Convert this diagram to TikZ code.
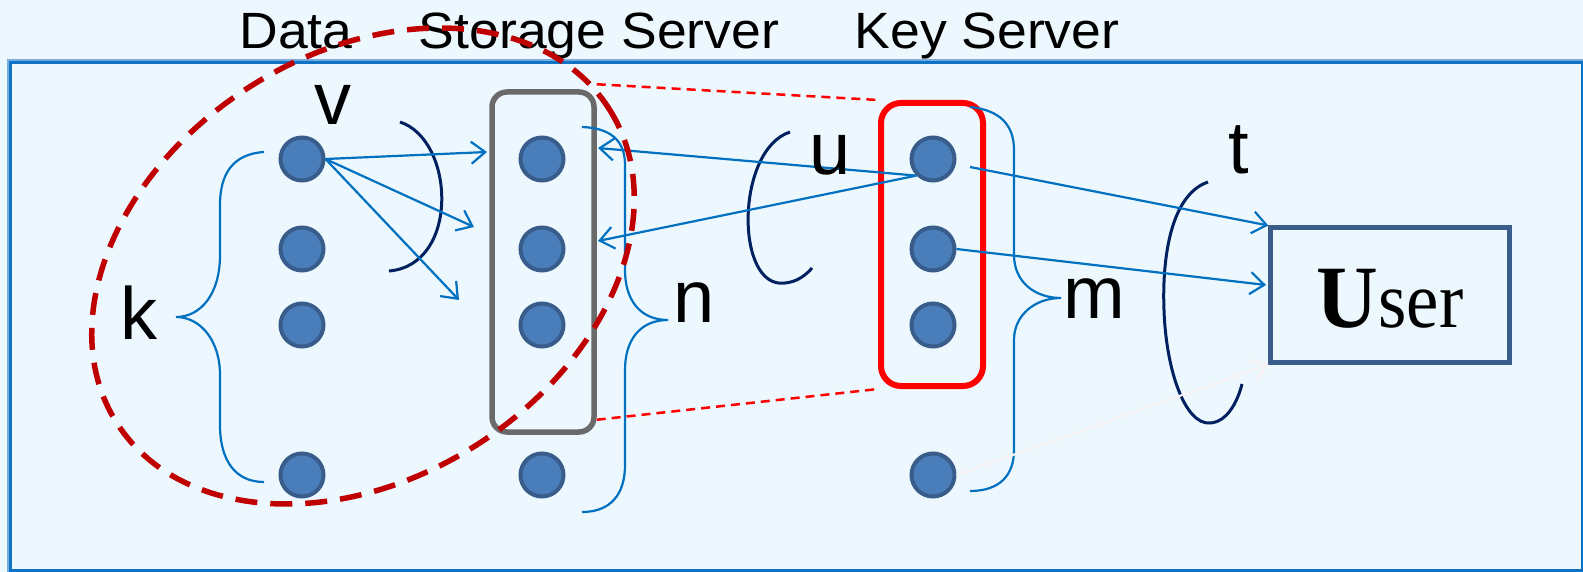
\documentclass[tikz,border=0pt]{standalone}
\usepackage{fontspec}
\setmainfont{Liberation Sans}
\newfontfamily\tnr{Liberation Serif}
\usetikzlibrary{arrows.meta}

\definecolor{bgblue}{RGB}{236,247,254}
\definecolor{framedark}{RGB}{16,114,196}
\definecolor{framelight}{RGB}{120,172,222}
\definecolor{dotfill}{RGB}{74,126,187}
\definecolor{dotedge}{RGB}{56,93,138}
\definecolor{linkblue}{RGB}{0,112,192}
\definecolor{navy}{RGB}{0,32,96}
\definecolor{darkred}{RGB}{192,0,0}
\definecolor{boxgray}{RGB}{106,106,106}
\definecolor{userframe}{RGB}{56,93,138}
\definecolor{faint}{RGB}{248,242,242}

\begin{document}
\begin{tikzpicture}[x=1pt,y=-1pt,
  dot/.style={circle,fill=dotfill,draw=dotedge,line width=4pt,minimum size=43pt,inner sep=0pt},
  link/.style={draw=linkblue,line width=2.2pt,-{Straight Barb[length=14pt,width=22pt]}},
  faintlink/.style={draw=faint,line width=2.2pt,-{Straight Barb[length=14pt,width=22pt]}},
  brace/.style={draw=linkblue,line width=2.2pt},
  loop/.style={draw=navy,line width=3pt},
  title/.style={font=\fontsize{51}{51}\selectfont,anchor=base,inner sep=0pt},
  letter/.style={font=\fontsize{74}{74}\selectfont,anchor=base,inner sep=0pt},
  keyline/.style={draw=red,line width=2.5pt,dash pattern=on 9pt off 6pt},
]
\useasboundingbox (0,0) rectangle (1583,572);
\fill[bgblue] (0,0) rectangle (1583,572);

% outer frame
\draw[framelight,line width=2pt] (8,60) rectangle (1590,580);
\draw[framedark,line width=3pt] (10.5,62.5) rectangle (1582,570.5);

% column titles
\node[title] (tdata) at (296,49) {\scalebox{1.05}[1]{Data}};
\node[title] (tstore) at (599,49) {\scalebox{1.05}[1]{Storage Server}};
\node[title] (tkey) at (987,49) {\scalebox{1.05}[1]{Key Server}};

% server groups
\node[draw=boxgray,line width=5.5pt,rounded corners=15pt,minimum width=102pt,minimum height=340pt,inner sep=0pt] (sbox) at (543,262) {};
\node[draw=red,line width=6pt,rounded corners=20pt,minimum width=102pt,minimum height=283pt,inner sep=0pt] (kbox) at (932,244.5) {};
\draw[keyline] ([yshift=5pt]sbox.north east) -- (kbox.north west);
\draw[keyline] ([yshift=15pt]sbox.south east) -- (kbox.south west);

% user box and its caption
\node[draw=userframe,line width=4.5pt,minimum width=239pt,minimum height=134.5pt,inner sep=0pt] (user) at (1390,295) {};
\node[anchor=base,inner sep=0pt] (usertext) at (1390,327)
  {\tnr\fontsize{89}{89}\selectfont\scalebox{0.96}[1]{\textbf{U}}\fontsize{80}{80}\selectfont\scalebox{0.91}[1]{ser}};

% braces
\draw[brace] (264,152) .. controls (232,154) and (220,175) .. (220,205) -- (220,255)
  .. controls (220,295) and (200,317) .. (176,317)
  .. controls (200,317) and (220,340) .. (220,375) -- (220,425)
  .. controls (220,460) and (235,482) .. (264,482);
\draw[brace] (582,127) .. controls (610,128) and (625,140) .. (625,165) -- (625,270)
  .. controls (625,300) and (640,320) .. (668,320)
  .. controls (640,320) and (625,340) .. (625,370) -- (625,465)
  .. controls (625,495) and (610,512) .. (582,512);
\draw[brace] (970,107) .. controls (1000,110) and (1014,125) .. (1014,150) -- (1014,255)
  .. controls (1014,282) and (1035,298) .. (1061,298)
  .. controls (1035,298) and (1014,315) .. (1014,340) -- (1014,450)
  .. controls (1014,475) and (1000,491) .. (970,491);

% threshold loops
\draw[loop] (400,122) .. controls (455,140) and (460,265) .. (389,271);
\draw[loop] (790,132) .. controls (735,150) and (735,290) .. (785,283)
  .. controls (797,282) and (806,275) .. (812,268);
\draw[loop] (1208,182) .. controls (1170,195) and (1162,260) .. (1164,310)
  .. controls (1166,370) and (1185,425) .. (1210,423)
  .. controls (1228,422) and (1238,400) .. (1242,384);

% nodes of the three columns
\foreach \r/\y in {1/159,2/249,3/325,4/475} {
  \node[dot] (d\r) at (302,\y) {};
  \node[dot] (s\r) at (542,\y) {};
  \node[dot] (q\r) at (933,\y) {};
}

% arrow end points
\coordinate (a1) at (487,152);
\coordinate (a2) at (474,227);
\coordinate (a3) at (459,300);
\coordinate (b1) at (598,148);
\coordinate (b2) at (598,241);
\coordinate (c1) at (970,167);
\coordinate (u2) at (1266,285);

\draw[link] (d1.east) -- (a1);
\draw[link] (d1.east) -- (a2);
\draw[link] (d1.east) -- (a3);
\draw[link] (q1.225) -- (b1);
\draw[link] (q1.225) -- (b2);
\draw[link] (c1) -- (user.north west);
\draw[link] (q2.east) -- (u2);
\draw[faintlink] (q4.east) -- (user.south west);

% labels
\node[letter] (lv) at (333,125) {v};
\node[letter] (lk) at (139,339) {k};
\node[letter] (ln) at (694,323) {n};
\node[letter] (lu) at (830,175) {u};
\node[letter] (lm) at (1094,319) {m};
\node[letter] (lt) at (1239,174) {t};

% data/storage region
\draw[darkred,line width=5.5pt,dash pattern=on 22pt off 13pt,rotate around={32.6:(363,266)}]
  (363,266) ellipse [x radius=292, y radius=212];
\end{tikzpicture}
\end{document}
